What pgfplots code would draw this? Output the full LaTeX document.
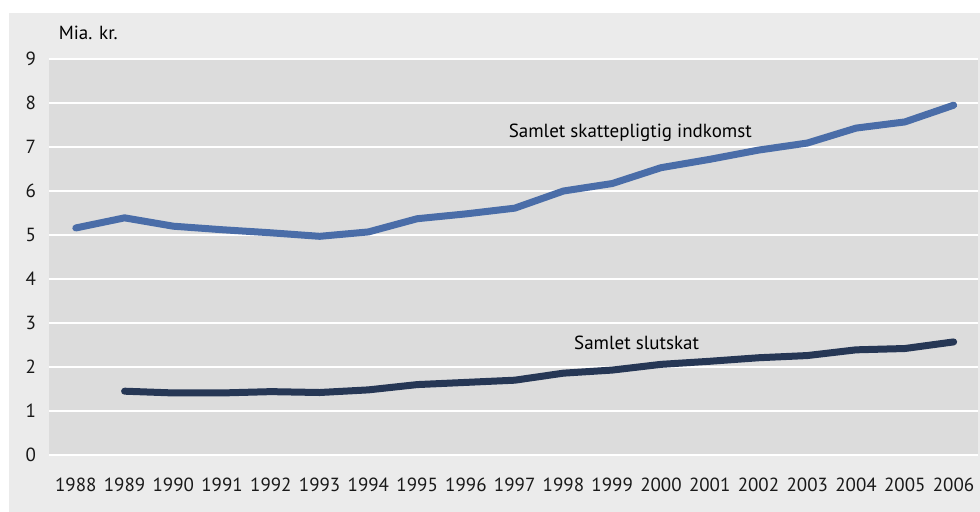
\documentclass[border=0pt]{standalone}
\usepackage{fontspec}
\setmainfont{PT Sans}
\usepackage{pgfplots}
\pgfplotsset{compat=1.18}
\definecolor{outerbg}{HTML}{EBEBEB}
\definecolor{plotbg}{HTML}{DCDCDC}
\definecolor{incblue}{HTML}{4A6DA8}
\definecolor{taxnavy}{HTML}{263755}
\begin{document}
\begin{tikzpicture}
\useasboundingbox (-24.5pt,-28.5pt) rectangle (465.5pt,227.5pt);
\fill[white] (-24.5pt,-28.5pt) rectangle (465.5pt,227.5pt);
\fill[outerbg] (-20pt,-28.5pt) rectangle (465.5pt,221pt);
\begin{axis}[
  at={(0,0)}, anchor=south west,
  scale only axis, width=464.5pt, height=198pt,
  xmin=1987.45, xmax=2006.5, ymin=0, ymax=9,
  axis background/.style={fill=plotbg},
  axis line style={draw=none},
  xtick={1988,...,2006}, ytick={0,...,9},
  major tick length=0pt,
  ymajorgrids, grid style={white, line width=1.3pt},
  /pgf/number format/1000 sep={},
  /pgf/number format/assume math mode=true,
  tick label style={font=\fontsize{9.5}{11}\selectfont, text=black!90},
  yticklabel style={xshift=-3pt},
  xticklabel style={yshift=-8pt},
  clip=false,
]
\addplot[incblue, line width=3.5pt, line cap=round, line join=round] coordinates {
(1988,5.16) (1989,5.39) (1990,5.20) (1991,5.12) (1992,5.05) (1993,4.97)
(1994,5.07) (1995,5.37) (1996,5.48) (1997,5.61) (1998,6.00) (1999,6.17)
(2000,6.53) (2001,6.72) (2002,6.93) (2003,7.09) (2004,7.43) (2005,7.57)
(2006,7.95)};
\addplot[taxnavy, line width=3.5pt, line cap=round, line join=round] coordinates {
(1989,1.45) (1990,1.41) (1991,1.41) (1992,1.44) (1993,1.42) (1994,1.48)
(1995,1.60) (1996,1.65) (1997,1.70) (1998,1.86) (1999,1.93) (2000,2.06)
(2001,2.13) (2002,2.21) (2003,2.26) (2004,2.39) (2005,2.42) (2006,2.57)};
\node[anchor=west, font=\fontsize{9.5}{11}\selectfont] at (rel axis cs:0.003,1.066) {Mia. kr.};
\node[font=\fontsize{9.5}{11}\selectfont] at (axis cs:1999.37,7.32) {Samlet skattepligtig indkomst};
\node[font=\fontsize{9.5}{11}\selectfont] at (axis cs:1999.5,2.55) {Samlet slutskat};
\end{axis}
\end{tikzpicture}
\end{document}
